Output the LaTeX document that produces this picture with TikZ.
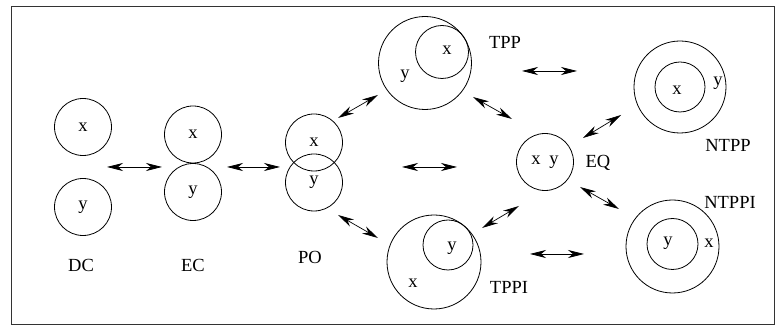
\documentclass[tikz,border=0pt]{standalone}
\usepackage{fontspec}
\setmainfont{Liberation Serif}
\usetikzlibrary{arrows.meta}
\tikzset{
    region/.style={circle,draw,inner sep=0pt,minimum size=#1},
    region/.default=57pt,
    lbl/.style={inner sep=0pt},
    rel/.style={{Stealth[length=16pt,width=8pt,inset=5pt]}-{Stealth[length=16pt,width=8pt,inset=5pt]}},
}
\begin{document}
\begin{tikzpicture}[x=1pt,y=-1pt,line width=0.8pt,font=\fontsize{18.5}{22}\selectfont]
    \useasboundingbox (0,0) rectangle (777,328);
    \draw[black!80,line width=1pt] (11,7) rectangle (774,325);
    % DC
    \node[region] (dcx) at (83,127) {x};
    \node[region] (dcy) at (83,207) {y};
    \node[lbl] (dc) at (81,265) {DC};
    % EC
    \node[region] (ecx) at (193,134.5) {x};
    \node[region] (ecy) at (193,192) {y};
    \node[lbl] (ec) at (193,265) {EC};
    % PO
    \node[region] (pox) at (314,142.5) {x};
    \node[region] (poy) at (314,182.5) {y};
    \node[lbl] (po) at (310,257) {PO};
    % TPP
    \node[region=93pt] (tppy) at (425,63) {};
    \node[region=53pt] (tppx) at (442,52) {};
    \node[lbl] at (447,50) {x};
    \node[lbl] at (405,76) {y};
    \node[lbl] (tpp) at (505,42) {TPP};
    % TPPI
    \node[region=94pt] (tppix) at (434,262) {};
    \node[region=50pt] (tppiy) at (448,245) {};
    \node[lbl] at (452,248) {y};
    \node[lbl] at (413,283) {x};
    \node[lbl] (tppi) at (509,287) {TPPI};
    % EQ
    \node[region] (eq) at (545,162) {x\hspace{9pt}y};
    \node[lbl] (eqlbl) at (598,163) {EQ};
    % NTPP
    \node[region=92pt] (ntppy) at (680,87) {};
    \node[region=50pt] (ntppx) at (680,87) {};
    \node[lbl] at (677,90) {x};
    \node[lbl] at (718,83) {y};
    \node[lbl] (ntpp) at (728,145) {NTPP};
    % NTPPI
    \node[region=93pt] (ntppix) at (672.5,246.5) {};
    \node[region=51pt] (ntppiy) at (672.5,244) {};
    \node[lbl] at (668,243) {y};
    \node[lbl] at (709,243) {x};
    \node[lbl] (ntppi) at (730,202) {NTPPI};
    % arrow ends
    \coordinate (a1) at (107,167); \coordinate (b1) at (162,167);
    \coordinate (a2) at (227,167); \coordinate (b2) at (280,167);
    \coordinate (a3) at (338,118); \coordinate (b3) at (378,95);
    \coordinate (a4) at (338,215); \coordinate (b4) at (378,238);
    \coordinate (a5) at (402,167); \coordinate (b5) at (457,167);
    \coordinate (a6) at (522,71);  \coordinate (b6) at (577,71);
    \coordinate (a7) at (473,97);  \coordinate (b7) at (512,119);
    \coordinate (a8) at (583,138); \coordinate (b8) at (621,115);
    \coordinate (a9) at (580,187); \coordinate (b9) at (619,209);
    \coordinate (a10) at (482,228); \coordinate (b10) at (519,206);
    \coordinate (a11) at (530,254); \coordinate (b11) at (584,254);
    \foreach \i in {1,...,11}
        \draw[rel,line width=0.7pt] (a\i) -- (b\i);
\end{tikzpicture}
\end{document}
